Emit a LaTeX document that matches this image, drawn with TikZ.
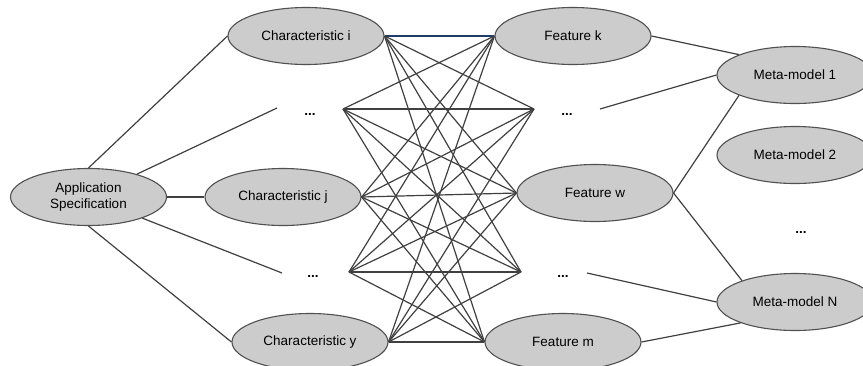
\documentclass[tikz,border=0pt]{standalone}
\usepackage{fontspec}
\setmainfont{Liberation Sans}
\usetikzlibrary{shapes.geometric}
\definecolor{ellfill}{RGB}{204,204,204}
\definecolor{ellline}{RGB}{80,80,80}
\definecolor{conn}{RGB}{64,64,64}
\definecolor{navyline}{RGB}{30,60,100}
\tikzset{
  ell/.style={ellipse, draw=ellline, fill=ellfill, line width=1.1pt, minimum width=156pt, minimum height=57pt, inner sep=0pt, align=center, font=\fontsize{13.5}{15.5}\selectfont},
  dotslabel/.style={anchor=base, inner sep=0pt, font=\fontsize{13.5}{15.5}\selectfont\bfseries},
  link/.style={draw=conn, line width=1.2pt},
}
\begin{document}
\begin{tikzpicture}[x=1pt,y=-1pt]
\useasboundingbox (0,0) rectangle (863,365);
% nodes
\node[ell] (app) at (88.5,197) {Application\\Specification};
\node[ell] (ci) at (306,36) {Characteristic i};
\node[ell] (cj) at (283,197) {Characteristic j};
\node[ell] (cy) at (310,342) {Characteristic y};
\node[ell] (fk) at (573,36) {Feature k};
\node[ell] (fw) at (595,193) {Feature w};
\node[ell] (fm) at (563,342) {Feature m};
\node[ell] (mm1) at (795,75) {Meta-model 1};
\node[ell] (mm2) at (795,155) {Meta-model 2};
\node[ell] (mmN) at (795,302) {Meta-model N};
% dots
\node[dotslabel] (d1) at (310,115) {...};
\node[dotslabel] (d2) at (313,277) {...};
\node[dotslabel] (d3) at (567,115) {...};
\node[dotslabel] (d4) at (563,277) {...};
\node[dotslabel] (d5) at (801,233) {...};
% junction coordinates
\coordinate (ul) at (343,109);
\coordinate (ur) at (534,109);
\coordinate (dl) at (349,272);
\coordinate (dr) at (521,272);
\coordinate (ua) at (277,108);
\coordinate (da) at (282,273);
\coordinate (ub) at (600,109);
\coordinate (db) at (587,273);
% left fan
\draw[link] (app.north) -- (ci.west);
\draw[link] (app) -- (ua);
\draw[link] (app.east) -- (cj.west);
\draw[link] (app) -- (da);
\draw[link] (app.south) -- (cy.west);
% bipartite
\draw[navyline, line width=1.2pt] (ci.east) -- (fk.west);
\foreach \r in {ur,fw.west,dr,fm.west} \draw[link] (ci.east) -- (\r);
\foreach \l in {ul,cj.east,dl,cy.east} {
  \foreach \r in {fk.west,ur,fw.west,dr,fm.west} \draw[link] (\l) -- (\r);
}
% right fan
\draw[link] (fk.east) -- (mm1.160);
\draw[link] (ub) -- (mm1.west);
\draw[link] (mm1.200) -- (fw.east);
\draw[link] (fw.east) -- (mmN.158);
\draw[link] (db) -- (mmN.west);
\draw[link] (fm.east) -- (mmN.201);
\end{tikzpicture}
\end{document}
